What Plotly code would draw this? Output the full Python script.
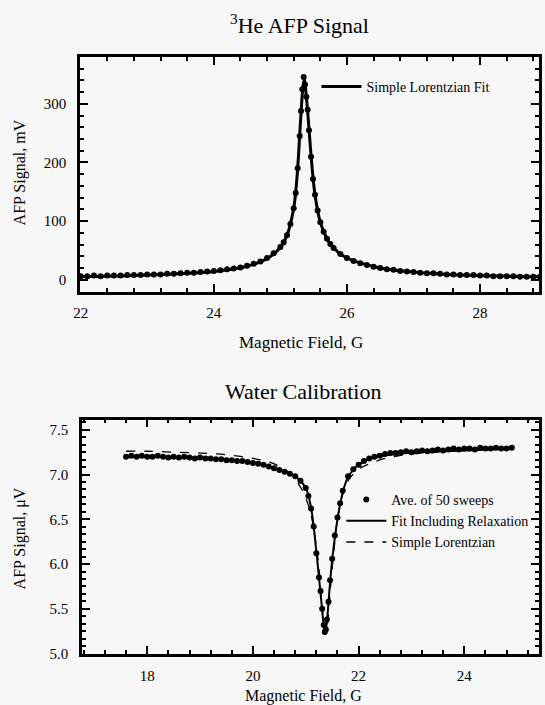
import plotly.graph_objects as go

# ---------------- data: 3He AFP signal ----------------
he_field = [22.0, 22.1, 22.2, 22.3, 22.4, 22.5, 22.6, 22.7, 22.8, 22.9,
            23.0, 23.1, 23.2, 23.3, 23.4, 23.5, 23.6, 23.7, 23.8, 23.9,
            24.0, 24.1, 24.2, 24.3, 24.4, 24.5, 24.6, 24.7, 24.8, 24.9,
            25.0, 25.05, 25.1, 25.15, 25.2, 25.23, 25.26, 25.29, 25.31, 25.33,
            25.35, 25.37, 25.39, 25.41, 25.43, 25.46, 25.49, 25.52, 25.56, 25.6,
            25.65, 25.7, 25.75, 25.8, 25.9, 26.0, 26.1, 26.2, 26.3, 26.4,
            26.5, 26.6, 26.7, 26.8, 26.9, 27.0, 27.1, 27.2, 27.3, 27.4,
            27.5, 27.6, 27.7, 27.8, 27.9, 28.0, 28.1, 28.2, 28.3, 28.4,
            28.5, 28.6, 28.7, 28.8, 28.9]
he_signal = [6, 6, 7, 6, 7, 7, 7, 8, 8, 8,
             9, 9, 9, 10, 10, 11, 12, 12, 13, 14,
             15, 16, 18, 19, 21, 24, 27, 31, 37, 45,
             56, 64, 76, 95, 122, 148, 190, 245, 288, 325,
             346, 333, 312, 290, 255, 210, 172, 145, 118, 98,
             82, 70, 61, 54, 44, 37, 32, 28, 25, 22,
             20, 18, 17, 15, 14, 13, 12, 11, 11, 10,
             9, 9, 8, 8, 8, 7, 7, 6, 6, 6,
             6, 5, 5, 5, 5]
he_fit_field = [22.0, 23.0, 24.0, 24.5, 24.8, 25.0, 25.1, 25.2, 25.25, 25.3,
                25.34, 25.36, 25.38, 25.42, 25.47, 25.52, 25.6, 25.7, 25.8, 26.0,
                26.5, 27.0, 27.5, 28.0, 28.9]
he_fit_signal = [5, 8, 14, 23, 36, 55, 76, 122, 175, 265,
                 330, 342, 325, 272, 200, 145, 98, 70, 54, 37,
                 20, 13, 9, 7, 5]

# ---------------- data: water calibration ----------------
water_field = [17.6, 17.7, 17.8, 17.9, 18.0, 18.1, 18.2, 18.3, 18.4, 18.5,
               18.6, 18.7, 18.8, 18.9, 19.0, 19.1, 19.2, 19.3, 19.4, 19.5,
               19.6, 19.7, 19.8, 19.9, 20.0, 20.1, 20.2, 20.3, 20.4, 20.5,
               20.6, 20.7, 20.8, 20.9, 21.0, 21.05, 21.1, 21.15, 21.2, 21.25,
               21.28, 21.31, 21.34, 21.36, 21.38, 21.4, 21.43, 21.46, 21.5, 21.55,
               21.6, 21.65, 21.7, 21.8, 21.9, 22.0, 22.1, 22.2, 22.3, 22.4,
               22.5, 22.6, 22.7, 22.8, 22.9, 23.0, 23.1, 23.2, 23.3, 23.4,
               23.5, 23.6, 23.7, 23.8, 23.9, 24.0, 24.1, 24.2, 24.3, 24.4,
               24.5, 24.6, 24.7, 24.8, 24.9]
water_signal = [7.20, 7.21, 7.20, 7.21, 7.20, 7.20, 7.21, 7.20, 7.19, 7.20,
                7.19, 7.20, 7.19, 7.18, 7.19, 7.18, 7.18, 7.17, 7.17, 7.16,
                7.16, 7.15, 7.15, 7.14, 7.13, 7.12, 7.11, 7.09, 7.07, 7.05,
                7.03, 7.01, 6.98, 6.93, 6.85, 6.76, 6.62, 6.42, 6.12, 5.85,
                5.70, 5.50, 5.32, 5.24, 5.27, 5.38, 5.58, 5.82, 6.06, 6.32,
                6.52, 6.68, 6.82, 6.98, 7.06, 7.11, 7.15, 7.18, 7.20, 7.21,
                7.23, 7.24, 7.24, 7.25, 7.26, 7.25, 7.26, 7.27, 7.26, 7.27,
                7.28, 7.27, 7.28, 7.29, 7.28, 7.29, 7.29, 7.28, 7.30, 7.29,
                7.29, 7.30, 7.29, 7.29, 7.30]
relax_fit_field = [17.6, 18.5, 19.5, 20.0, 20.5, 20.8, 21.0, 21.1, 21.2, 21.25,
                   21.3, 21.34, 21.37, 21.4, 21.45, 21.5, 21.6, 21.7, 21.8, 22.0,
                   22.3, 22.7, 23.2, 24.0, 24.9]
relax_fit_signal = [7.20, 7.195, 7.165, 7.135, 7.055, 6.98, 6.85, 6.63, 6.14, 5.85,
                    5.55, 5.32, 5.24, 5.36, 5.72, 6.05, 6.50, 6.80, 6.97, 7.11,
                    7.19, 7.23, 7.25, 7.27, 7.29]
lorentz_field = [17.6, 18.0, 18.5, 19.0, 19.5, 20.0, 20.3, 20.5, 20.7, 20.9,
                 21.0, 21.1, 21.2, 21.25, 21.3, 21.35, 21.38, 21.41, 21.45, 21.5,
                 21.55, 21.6, 21.7, 21.8, 22.0, 22.25, 22.5, 22.75, 23.0, 23.5,
                 24.0, 24.5, 24.9]
lorentz_signal = [7.26, 7.26, 7.25, 7.24, 7.22, 7.18, 7.14, 7.09, 7.01, 6.86,
                  6.74, 6.55, 6.20, 5.95, 5.60, 5.30, 5.24, 5.32, 5.60, 5.95,
                  6.25, 6.50, 6.78, 6.93, 7.06, 7.13, 7.18, 7.21, 7.23, 7.25,
                  7.27, 7.28, 7.28]

# ---------------- layout geometry ----------------
W, H = 545, 705
L, R, T, B = 80, 3, 57, 51
PW, PH = W - L - R, H - T - B
BG = "#f7f7f7"
FONT = "Liberation Serif"


def pxx(x):
    return (x - L) / PW


def pyy(y):
    return (H - B - y) / PH


fig = go.Figure()

fig.add_trace(go.Scatter(x=he_field, y=he_signal, mode="markers",
                         marker=dict(size=6, color="black"),
                         xaxis="x", yaxis="y", showlegend=False))
fig.add_trace(go.Scatter(x=he_fit_field, y=he_fit_signal, mode="lines",
                         line=dict(color="black", width=3, shape="spline"),
                         name="Simple Lorentzian Fit",
                         xaxis="x", yaxis="y", legend="legend"))

fig.add_trace(go.Scatter(x=water_field, y=water_signal, mode="markers",
                         marker=dict(size=6, color="black"),
                         name="Ave. of 50 sweeps",
                         xaxis="x2", yaxis="y2", legend="legend2"))
fig.add_trace(go.Scatter(x=relax_fit_field, y=relax_fit_signal, mode="lines",
                         line=dict(color="black", width=2, shape="spline"),
                         name="Fit Including Relaxation",
                         xaxis="x2", yaxis="y2", legend="legend2"))
fig.add_trace(go.Scatter(x=lorentz_field, y=lorentz_signal, mode="lines",
                         line=dict(color="black", width=1.3, dash="dash", shape="spline"),
                         name="Simple Lorentzian",
                         xaxis="x2", yaxis="y2", legend="legend2"))

axis_common = dict(showline=True, linecolor="black", linewidth=2.5, mirror="ticks",
                   ticks="inside", ticklen=8, tickwidth=2, tickcolor="black",
                   showgrid=False, zeroline=False,
                   tickfont=dict(family=FONT, size=15, color="black"))
minor_common = dict(ticks="inside", ticklen=4, tickwidth=1.5, tickcolor="black", tick0=0)

fig.update_layout(
    width=W, height=H,
    margin=dict(l=L, r=R, t=T, b=B, pad=0),
    paper_bgcolor=BG, plot_bgcolor=BG,
    font=dict(family=FONT, color="black"),
    xaxis=dict(domain=[0, 1], anchor="y", range=[21.99, 28.885], tick0=0, dtick=2,
               minor=dict(dtick=0.4, **minor_common),
               ticklabelstandoff=5, **axis_common),
    yaxis=dict(domain=[pyy(292), 1], anchor="x", range=[-21, 380], tick0=0, dtick=100,
               minor=dict(dtick=20, **minor_common),
               ticklabelstandoff=8, **axis_common),
    xaxis2=dict(domain=[pxx(82), 1], anchor="y2", range=[16.765, 25.414], tick0=0, dtick=2,
                minor=dict(dtick=0.4, **minor_common),
                ticklabelstandoff=6, **axis_common),
    yaxis2=dict(domain=[0, pyy(419.5)], anchor="x2", range=[4.995, 7.615], tick0=0, dtick=0.5,
                tickformat=".1f",
                minor=dict(dtick=1 / 12, **minor_common),
                ticklabelstandoff=8, **axis_common),
    legend=dict(x=pxx(318), y=pyy(71), xanchor="left", yanchor="top",
                bgcolor="rgba(0,0,0,0)", font=dict(family=FONT, size=14, color="black"),
                itemwidth=40),
    legend2=dict(x=pxx(343), y=pyy(484), xanchor="left", yanchor="top",
                 bgcolor="rgba(0,0,0,0)", font=dict(family=FONT, size=14, color="black"),
                 itemwidth=40, tracegroupgap=0),
)

ann = [
    ("<sup>3</sup>He AFP Signal", 301, 24, 0, 22),
    ("Water Calibration", 304, 392, 0, 22),
    ("Magnetic Field, G", 302, 342, 0, 17),
    ("Magnetic Field, G", 305, 696, 0, 16),
    ("AFP Signal, mV", 20, 172, -90, 16),
    ("AFP Signal, \u03bcV", 20, 538, -90, 16),
]
for text, x, y, ang, size in ann:
    fig.add_annotation(text=text, x=pxx(x), y=pyy(y), xref="paper", yref="paper",
                       xanchor="center", yanchor="middle", showarrow=False, textangle=ang,
                       font=dict(family=FONT, size=size, color="black"))

fig.write_html("out.html")
